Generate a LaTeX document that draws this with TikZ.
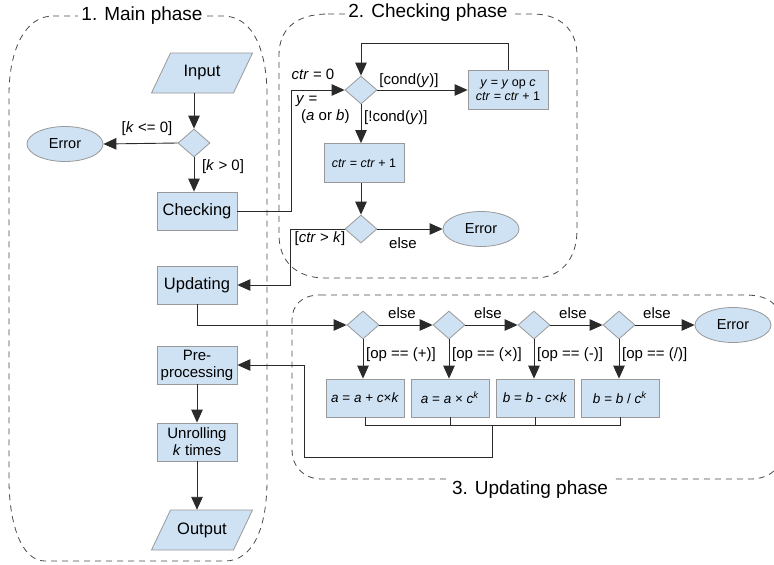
\documentclass[tikz,border=0pt]{standalone}
\usepackage{fontspec}
\setmainfont{Liberation Sans}
\usetikzlibrary{shapes.geometric,arrows.meta,backgrounds}
\definecolor{boxfill}{HTML}{CFE2F3}
\definecolor{boxline}{HTML}{999999}
\definecolor{lin}{HTML}{2A2A2A}
\definecolor{dashc}{HTML}{4A4A4A}
\begin{document}
\begin{tikzpicture}[x=1pt,y=-1pt,
  shp/.style={draw=boxline, fill=boxfill, line width=0.8pt},
  mainbox/.style={shp, minimum width=80pt, minimum height=38pt, inner sep=1pt, align=center, font=\fontsize{16.5}{19}\selectfont},
  twobox/.style={mainbox, font=\fontsize{15}{17}\selectfont},
  ckbox/.style={shp, minimum width=80pt, minimum height=39pt, inner sep=1pt, align=center, font=\fontsize{12.5}{14.5}\selectfont},
  upbox/.style={shp, minimum width=78pt, minimum height=38pt, inner sep=1pt, align=center, font=\fontsize{13.5}{15}\selectfont},
  paratext/.style={minimum width=82pt, minimum height=40pt, inner sep=0pt, font=\fontsize{16.5}{19}\selectfont},
  dia/.style={shp, diamond, minimum width=32pt, minimum height=28pt, inner sep=0pt},
  err/.style={shp, ellipse, minimum width=76pt, minimum height=35pt, inner sep=0pt, font=\fontsize{14.5}{17}\selectfont},
  lbl/.style={inner sep=1pt, font=\fontsize{15}{17}\selectfont},
  ttl/.style={fill=white, inner sep=3pt, font=\fontsize{19}{22}\selectfont},
  region/.style={draw=dashc, line width=0.8pt, dash pattern=on 6pt off 5pt},
  arr/.style={draw=lin, line width=0.9pt, -{Triangle[length=13pt,width=11.5pt]}},
  lin/.style={draw=lin, line width=0.9pt}
]
\useasboundingbox (0,0) rectangle (774,565);

% regions
\draw[region] (53,16) -- (223,16) .. controls (255,16) and (267,55) .. (267,95) -- (267,480)
  .. controls (267,530) and (252,561) .. (225,561) -- (45,561)
  .. controls (20,561) and (9,520) .. (9,480) -- (9,95) .. controls (9,50) and (25,16) .. (53,16);
\draw[region] (328,14) -- (533,14) .. controls (560,14) and (577,30) .. (577,55) -- (577,230)
  .. controls (577,260) and (560,278) .. (535,278) -- (325,278)
  .. controls (295,278) and (279,260) .. (279,235) -- (279,55) .. controls (279,30) and (295,14) .. (328,14);
\draw[region] (320,295) -- (745,295) .. controls (770,295) and (782,305) .. (782,330) -- (782,450)
  .. controls (782,468) and (770,479) .. (750,479) -- (322,479)
  .. controls (302,479) and (292,465) .. (292,450) -- (292,320) .. controls (292,305) and (302,295) .. (320,295);
\node[ttl] (t1) at (142,16) {1. Main phase};
\node[ttl] (t2) at (428,13) {2. Checking phase};
\node[ttl] (t3) at (530,490) {3. Updating phase};

% main phase
\node[paratext] (input) at (202,73) {Input};
\node[paratext] (output) at (202,530) {Output};
\begin{scope}[on background layer]
  \fill[white] (0,0) rectangle (774,565);
  \draw[shp] (input.center) ++(-50.5,20) -- ++(82,0) -- ++(19,-40) -- ++(-82,0) -- cycle;
  \draw[shp] (output.center) ++(-50.5,20) -- ++(82,0) -- ++(19,-40) -- ++(-82,0) -- cycle;
\end{scope}
\node[dia] (d1) at (194,143) {};
\node[err] (err1) at (65,144) {Error};
\node[mainbox] (check) at (197,211) {Checking};
\node[mainbox] (upd) at (197,285) {Updating};
\node[twobox] (pre) at (197,365) {Pre-\\processing};
\node[twobox] (unr) at (197,442) {Unrolling\\\textit{k} times};

% checking phase
\node[dia] (d2) at (361,90) {};
\node[ckbox] (ybox) at (508,90) {\textit{y} = \textit{y} op \textit{c}\\\textit{ctr} = \textit{ctr} + 1};
\node[ckbox] (cbox) at (364,163) {\textit{ctr} = \textit{ctr} + 1};
\node[dia] (d3) at (361,229) {};
\node[err] (err2) at (481,229) {Error};

% updating phase
\node[dia] (d4) at (363,325) {};
\node[dia] (d5) at (449,325) {};
\node[dia] (d6) at (534,325) {};
\node[dia] (d7) at (619,325) {};
\node[err] (err3) at (733,325) {Error};
\node[upbox] (b1) at (365,398) {\textit{a} = \textit{a} + \textit{c}×\textit{k}};
\node[upbox] (b2) at (450,398) {\textit{a} = \textit{a} × \textit{c}\textsuperscript{\textit{k}}};
\node[upbox] (b3) at (535,398) {\textit{b} = \textit{b} - \textit{c}×\textit{k}};
\node[upbox] (b4) at (620,398) {\textit{b} = \textit{b} / \textit{c}\textsuperscript{\textit{k}}};

% connectors main
\draw[arr] (input.south -| d1) -- (d1.north);
\draw[arr] (d1.west) -- (err1.east);
\draw[arr] (d1.south) -- (d1.south |- check.north);
\draw[arr] (pre.south) -- (unr.north);
\draw[arr] (unr.south) -- (unr.south |- output.north);
\node[lbl] (l1) at (147,129) {[\textit{k} <= 0]};
\node[lbl] (l2) at (223,167) {[\textit{k} > 0]};

% connectors checking
\draw[arr] (check.east) -- ++(54,0) |- (d2.west);
\draw[arr] (d2.east) -- (ybox.west);
\draw[arr] (ybox.north) -- ++(0,-27) -| (d2.north);
\draw[arr] (d2.south) -- (d2.south |- cbox.north);
\draw[arr] (cbox.south -| d3) -- (d3.north);
\draw[arr] (d3.east) -- (err2.west);
\draw[arr] (d3.west) -- ++(-54,0) |- (upd.east);
\node[lbl] (l3) at (313,74) {\textit{ctr} = 0};
\node[lbl, align=left, anchor=west] (l4) at (295,110) {\textit{y} =\\\hspace*{5pt}(\textit{a} or \textit{b})};
\node[lbl] (l5) at (409,81) {[cond(\textit{y})]};
\node[lbl, anchor=west] (l6) at (363,118) {[!cond(\textit{y})]};
\node[lbl] (l7) at (320,239) {[\textit{ctr} > \textit{k}]};
\node[lbl] (l8) at (403,243) {else};

% connectors updating
\draw[arr] (upd.south) |- (d4.west);
\draw[arr] (d4.east) -- (d5.west);
\draw[arr] (d5.east) -- (d6.west);
\draw[arr] (d6.east) -- (d7.west);
\draw[arr] (d7.east) -- (err3.west);
\foreach \d/\b in {d4/b1,d5/b2,d6/b3,d7/b4}{
  \draw[arr] (\d.south) -- (\d.south |- \b.north);
}
\node[lbl] (e1) at (402,313) {else};
\node[lbl] (e2) at (488,313) {else};
\node[lbl] (e3) at (573,313) {else};
\node[lbl] (e4) at (657,313) {else};
\node[lbl, anchor=west] (o1) at (365,355) {[op == (+)]};
\node[lbl, anchor=west] (o2) at (451,355) {[op == (×)]};
\node[lbl, anchor=west] (o3) at (536,355) {[op == (-)]};
\node[lbl, anchor=west] (o4) at (621,355) {[op == (/)]};

\coordinate (m1) at (365,425);
\coordinate (j) at (492,425);
\coordinate (j2) at (492,457);
\coordinate (j3) at (304,457);
\draw[lin] (b1.south) -- (m1) -- (m1 -| b4.south) -- (b4.south);
\draw[lin] (b2.south) -- (b2.south |- m1);
\draw[lin] (b3.south) -- (b3.south |- m1);
\draw[arr] (j) -- (j2) -- (j3) |- (pre.east);
\end{tikzpicture}
\end{document}
